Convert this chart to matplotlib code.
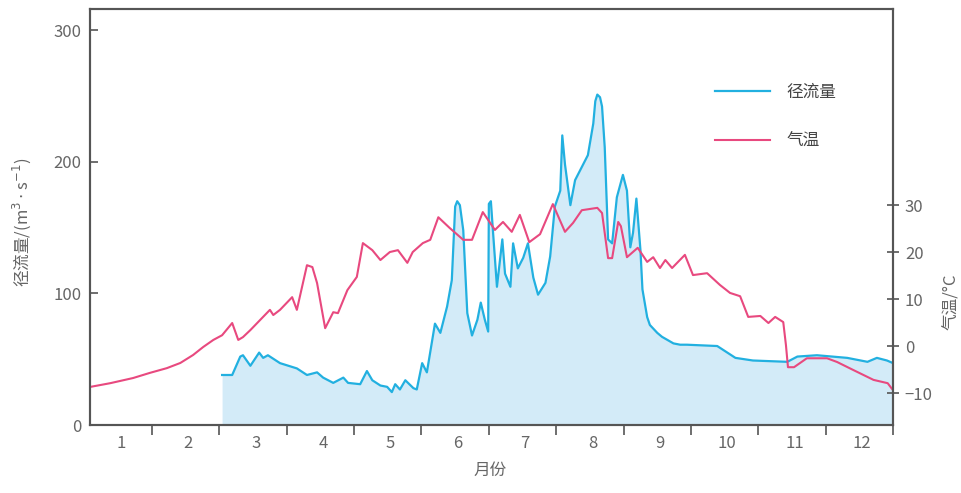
import numpy as np
import matplotlib
matplotlib.use("Agg")
import matplotlib.pyplot as plt
from matplotlib.lines import Line2D

plt.rcParams['font.family'] = ['Noto Sans CJK SC', 'DejaVu Sans']

# Runoff (m3/s), x in months (month m spans m-1 .. m)
runoff_x = [2.04, 2.19, 2.31, 2.35, 2.46, 2.59, 2.65, 2.72, 2.90, 3.15, 3.30, 3.45, 3.54,
            3.69, 3.84, 3.91, 4.09, 4.19, 4.27, 4.39, 4.49, 4.56, 4.61, 4.68, 4.76, 4.88,
            4.93, 5.01, 5.08, 5.20, 5.28, 5.38, 5.45, 5.50, 5.53, 5.57, 5.62, 5.68, 5.75, 5.83,
            5.88, 5.94, 5.99, 6.00, 6.03, 6.06, 6.12, 6.20, 6.24, 6.32, 6.36, 6.43, 6.51, 6.58,
            6.66, 6.73, 6.84, 6.91, 6.98, 7.06, 7.09, 7.13, 7.21, 7.28, 7.47, 7.55, 7.58, 7.61,
            7.65, 7.68, 7.72, 7.77, 7.83, 7.90, 7.99, 8.05, 8.10, 8.14, 8.19, 8.25, 8.28, 8.35,
            8.39, 8.50, 8.57, 8.74, 8.84, 8.94, 9.39, 9.54, 9.66, 9.92, 10.43, 10.58, 10.87,
            11.32, 11.62, 11.76, 11.91, 12.0]
runoff_q = [38, 38, 52, 53, 45, 55, 51, 53, 47, 43, 38, 40, 36,
            32, 36, 32, 31, 41, 34, 30, 29, 25, 31, 27, 34, 28,
            27, 47, 40, 77, 70, 90, 110, 166, 170, 167, 148, 85, 68, 80,
            93, 80, 71, 168, 170, 148, 105, 141, 115, 105, 138, 119, 127, 138,
            112, 99, 108, 128, 166, 178, 220, 198, 167, 186, 205, 229, 246, 251,
            249, 242, 211, 141, 138, 173, 190, 178, 135, 146, 172, 133, 103, 82,
            76, 70, 67, 62, 61, 61, 60, 55, 51, 49, 48, 52, 53,
            51, 48, 51, 49, 47]

# Air temperature (deg C)
temp_x = [0.08, 0.38, 0.72, 0.97, 1.22, 1.42, 1.61, 1.76, 1.91, 2.04, 2.19, 2.28, 2.35,
          2.46, 2.75, 2.80, 2.90, 3.08, 3.15, 3.30, 3.38, 3.45, 3.57, 3.69, 3.76, 3.90,
          4.04, 4.13, 4.27, 4.39, 4.53, 4.65, 4.79, 4.87, 5.02, 5.13, 5.25, 5.42, 5.62,
          5.75, 5.91, 6.09, 6.21, 6.34, 6.46, 6.60, 6.76, 6.95, 7.13, 7.25, 7.38, 7.61,
          7.68, 7.77, 7.83, 7.92, 7.96, 8.05, 8.21, 8.35, 8.44, 8.54, 8.62, 8.72, 8.91,
          9.03, 9.24, 9.43, 9.58, 9.73, 9.85, 10.03, 10.15, 10.25, 10.37, 10.41, 10.44,
          10.53, 10.72, 11.02, 11.17, 11.41, 11.71, 11.92, 12.0]
temp_t = [-8.7, -7.9, -6.8, -5.7, -4.7, -3.6, -1.9, -0.2, 1.3, 2.3, 4.9, 1.3, 1.9,
          3.4, 7.7, 6.6, 7.7, 10.4, 7.7, 17.2, 16.8, 13.4, 3.8, 7.2, 7.0, 11.9,
          14.7, 21.9, 20.4, 18.3, 20.0, 20.4, 17.7, 20.0, 21.9, 22.6, 27.4, 25.1, 22.6,
          22.6, 28.5, 24.7, 26.4, 24.3, 27.9, 22.1, 23.8, 30.2, 24.3, 26.2, 28.9, 29.4,
          28.3, 18.7, 18.7, 26.4, 25.5, 18.9, 20.9, 17.9, 18.9, 16.6, 18.3, 16.6, 19.4,
          15.1, 15.5, 13.0, 11.3, 10.6, 6.2, 6.4, 4.9, 6.2, 5.1, 0.2, -4.5,
          -4.5, -2.6, -2.6, -3.4, -5.1, -7.2, -7.9, -9.4]

months = list(range(1, 13))
left_ticks = [0, 100, 200, 300]
right_ticks = [-10, 0, 10, 20, 30]

blue = '#22b0e0'
pink = '#e8497f'
fill = '#d3ebf8'
axis_col = '#555555'
text_col = '#666666'

fig = plt.figure(figsize=(9.61, 4.93), dpi=100)
ax = fig.add_axes([0.0937, 0.1379, 0.8356, 0.8438])
ax2 = ax.twinx()

ax.fill_between(runoff_x, 0, runoff_q, color=fill, linewidth=0)
ax.plot(runoff_x, runoff_q, color=blue, lw=1.6, solid_joinstyle='round')
ax2.plot(temp_x, temp_t, color=pink, lw=1.5, solid_joinstyle='round')

ax.set_xlim(0.08, 12.0)
ax.set_ylim(0, 316)
ax2.set_ylim(-16.8, 71.7)

for a in (ax, ax2):
    for s in a.spines.values():
        s.set_color(axis_col)
        s.set_linewidth(1.5)

ax.set_xticks(months)
ax.set_xticklabels([])
ax.set_xticks([m - 0.46 for m in months], minor=True)
ax.set_xticklabels([str(m) for m in months], minor=True)
ax.tick_params(axis='x', which='major', direction='out', length=7, width=1.2, color=axis_col)
ax.tick_params(axis='x', which='minor', length=0, pad=7, labelsize=12, labelcolor=text_col)

ax.set_yticks(left_ticks)
ax.tick_params(axis='y', direction='in', length=6, width=1.2, color=axis_col,
               pad=6, labelsize=12, labelcolor=text_col)

ax2.set_yticks(right_ticks)
ax2.set_yticklabels(['\u221210', '0', '10', '20', '30'])
ax2.tick_params(axis='y', direction='inout', length=9, width=1.2, color=axis_col,
                pad=4, labelsize=12, labelcolor=text_col)

fig.text(22 / 961, 1 - 222 / 493, '径流量/(m$^3\\cdot$s$^{-1}$)', rotation=90,
         ha='center', va='center', fontsize=12, color=text_col)
fig.text(952 / 961, 1 - 302 / 493, '气温/°C', rotation=90,
         ha='center', va='center', fontsize=12, color=text_col)
fig.text(490 / 961, 1 - 470 / 493, '月份', ha='center', va='center',
         fontsize=12, color=text_col)

handles = [Line2D([], [], color=blue, lw=1.6), Line2D([], [], color=pink, lw=1.5)]
ax.legend(handles, ['径流量', '气温'], loc='upper left', bbox_to_anchor=(0.768, 0.84),
          frameon=False, fontsize=12, handlelength=3.3, handletextpad=1.0,
          labelspacing=1.9, borderpad=0, labelcolor='#444444')

fig.savefig('out.png', dpi=100)
